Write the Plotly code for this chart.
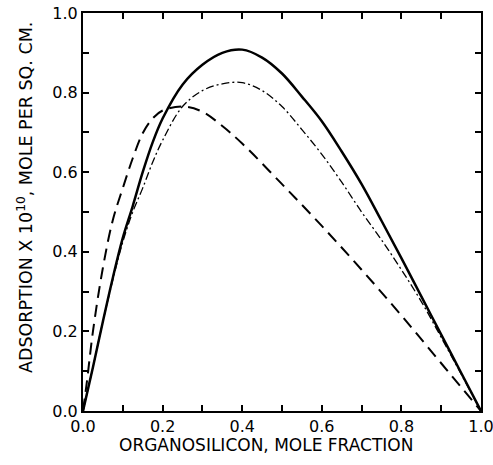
import plotly.graph_objects as go

# Mole fraction of organosilicon
x_solid = [0, 0.025, 0.05, 0.075, 0.1, 0.125, 0.15, 0.175, 0.2, 0.25, 0.3, 0.35, 0.4,
           0.45, 0.5, 0.55, 0.6, 0.65, 0.7, 0.75, 0.8, 0.85, 0.9, 0.95, 1.0]
y_solid = [0, 0.11, 0.225, 0.335, 0.435, 0.515, 0.60, 0.675, 0.735, 0.82, 0.87, 0.90, 0.908,
           0.888, 0.848, 0.79, 0.728, 0.652, 0.57, 0.478, 0.384, 0.288, 0.192, 0.096, 0]

x_dashdot = [0, 0.025, 0.05, 0.075, 0.1, 0.125, 0.15, 0.175, 0.2, 0.25, 0.3, 0.35, 0.4,
             0.45, 0.5, 0.55, 0.6, 0.65, 0.7, 0.75, 0.8, 0.85, 0.9, 0.95, 1.0]
y_dashdot = [0, 0.11, 0.225, 0.33, 0.425, 0.50, 0.56, 0.625, 0.68, 0.765, 0.805, 0.822, 0.825,
             0.805, 0.765, 0.707, 0.645, 0.575, 0.50, 0.43, 0.355, 0.275, 0.185, 0.093, 0]

x_dashed = [0, 0.01, 0.025, 0.05, 0.075, 0.1, 0.125, 0.15, 0.175, 0.2, 0.25, 0.3, 0.35, 0.4,
            0.5, 0.6, 0.7, 0.8, 0.9, 1.0]
y_dashed = [0, 0.075, 0.2, 0.36, 0.48, 0.56, 0.635, 0.698, 0.735, 0.755, 0.765, 0.752, 0.716, 0.672,
            0.57, 0.465, 0.355, 0.24, 0.12, 0]

FONT = "DejaVu Sans"

fig = go.Figure()
fig.add_trace(go.Scatter(x=x_dashed, y=y_dashed, mode="lines",
                         line=dict(color="black", width=2, dash="12px,7px", shape="spline", smoothing=1.0),
                         showlegend=False))
fig.add_trace(go.Scatter(x=x_dashdot, y=y_dashdot, mode="lines",
                         line=dict(color="black", width=1.3, dash="8px,3px,2px,3px", shape="spline", smoothing=1.0),
                         showlegend=False))
fig.add_trace(go.Scatter(x=x_solid, y=y_solid, mode="lines",
                         line=dict(color="black", width=2.5, shape="spline", smoothing=1.0),
                         showlegend=False))

axis_common = dict(
    range=[0, 1], dtick=0.2, tick0=0, tickformat=".1f", automargin=False,
    ticklabeloverflow="allow",
    showgrid=False, zeroline=False,
    showline=True, linecolor="black", linewidth=2, mirror="ticks",
    ticks="inside", ticklen=6, tickwidth=1.5, tickcolor="black",
    minor=dict(dtick=0.1, ticks="inside", ticklen=6, tickwidth=1.5, tickcolor="black", showgrid=False),
    tickfont=dict(family=FONT, size=16, color="black"),
)

fig.update_xaxes(**axis_common)
fig.update_yaxes(**axis_common)

fig.update_layout(
    width=493, height=465,
    margin=dict(l=83, r=12, t=13, b=54, autoexpand=False),
    paper_bgcolor="white", plot_bgcolor="white",
    annotations=[
        dict(text="ORGANOSILICON, MOLE FRACTION", xref="paper", yref="paper",
             x=(266 - 83) / 398, y=-(445 - 411) / 398, xanchor="center", yanchor="middle",
             showarrow=False, font=dict(family=FONT, size=17, color="black")),
        dict(text="ADSORPTION X 10<sup>10</sup>, MOLE PER SQ. CM.", xref="paper", yref="paper",
             x=-(83 - 25) / 398, y=(411 - 198) / 398, xanchor="center", yanchor="middle",
             textangle=-90, showarrow=False, font=dict(family=FONT, size=17.5, color="black")),
    ],
)

fig.write_html("out.html", config={"displayModeBar": False},
               post_script="document.body.style.margin='0px';")
